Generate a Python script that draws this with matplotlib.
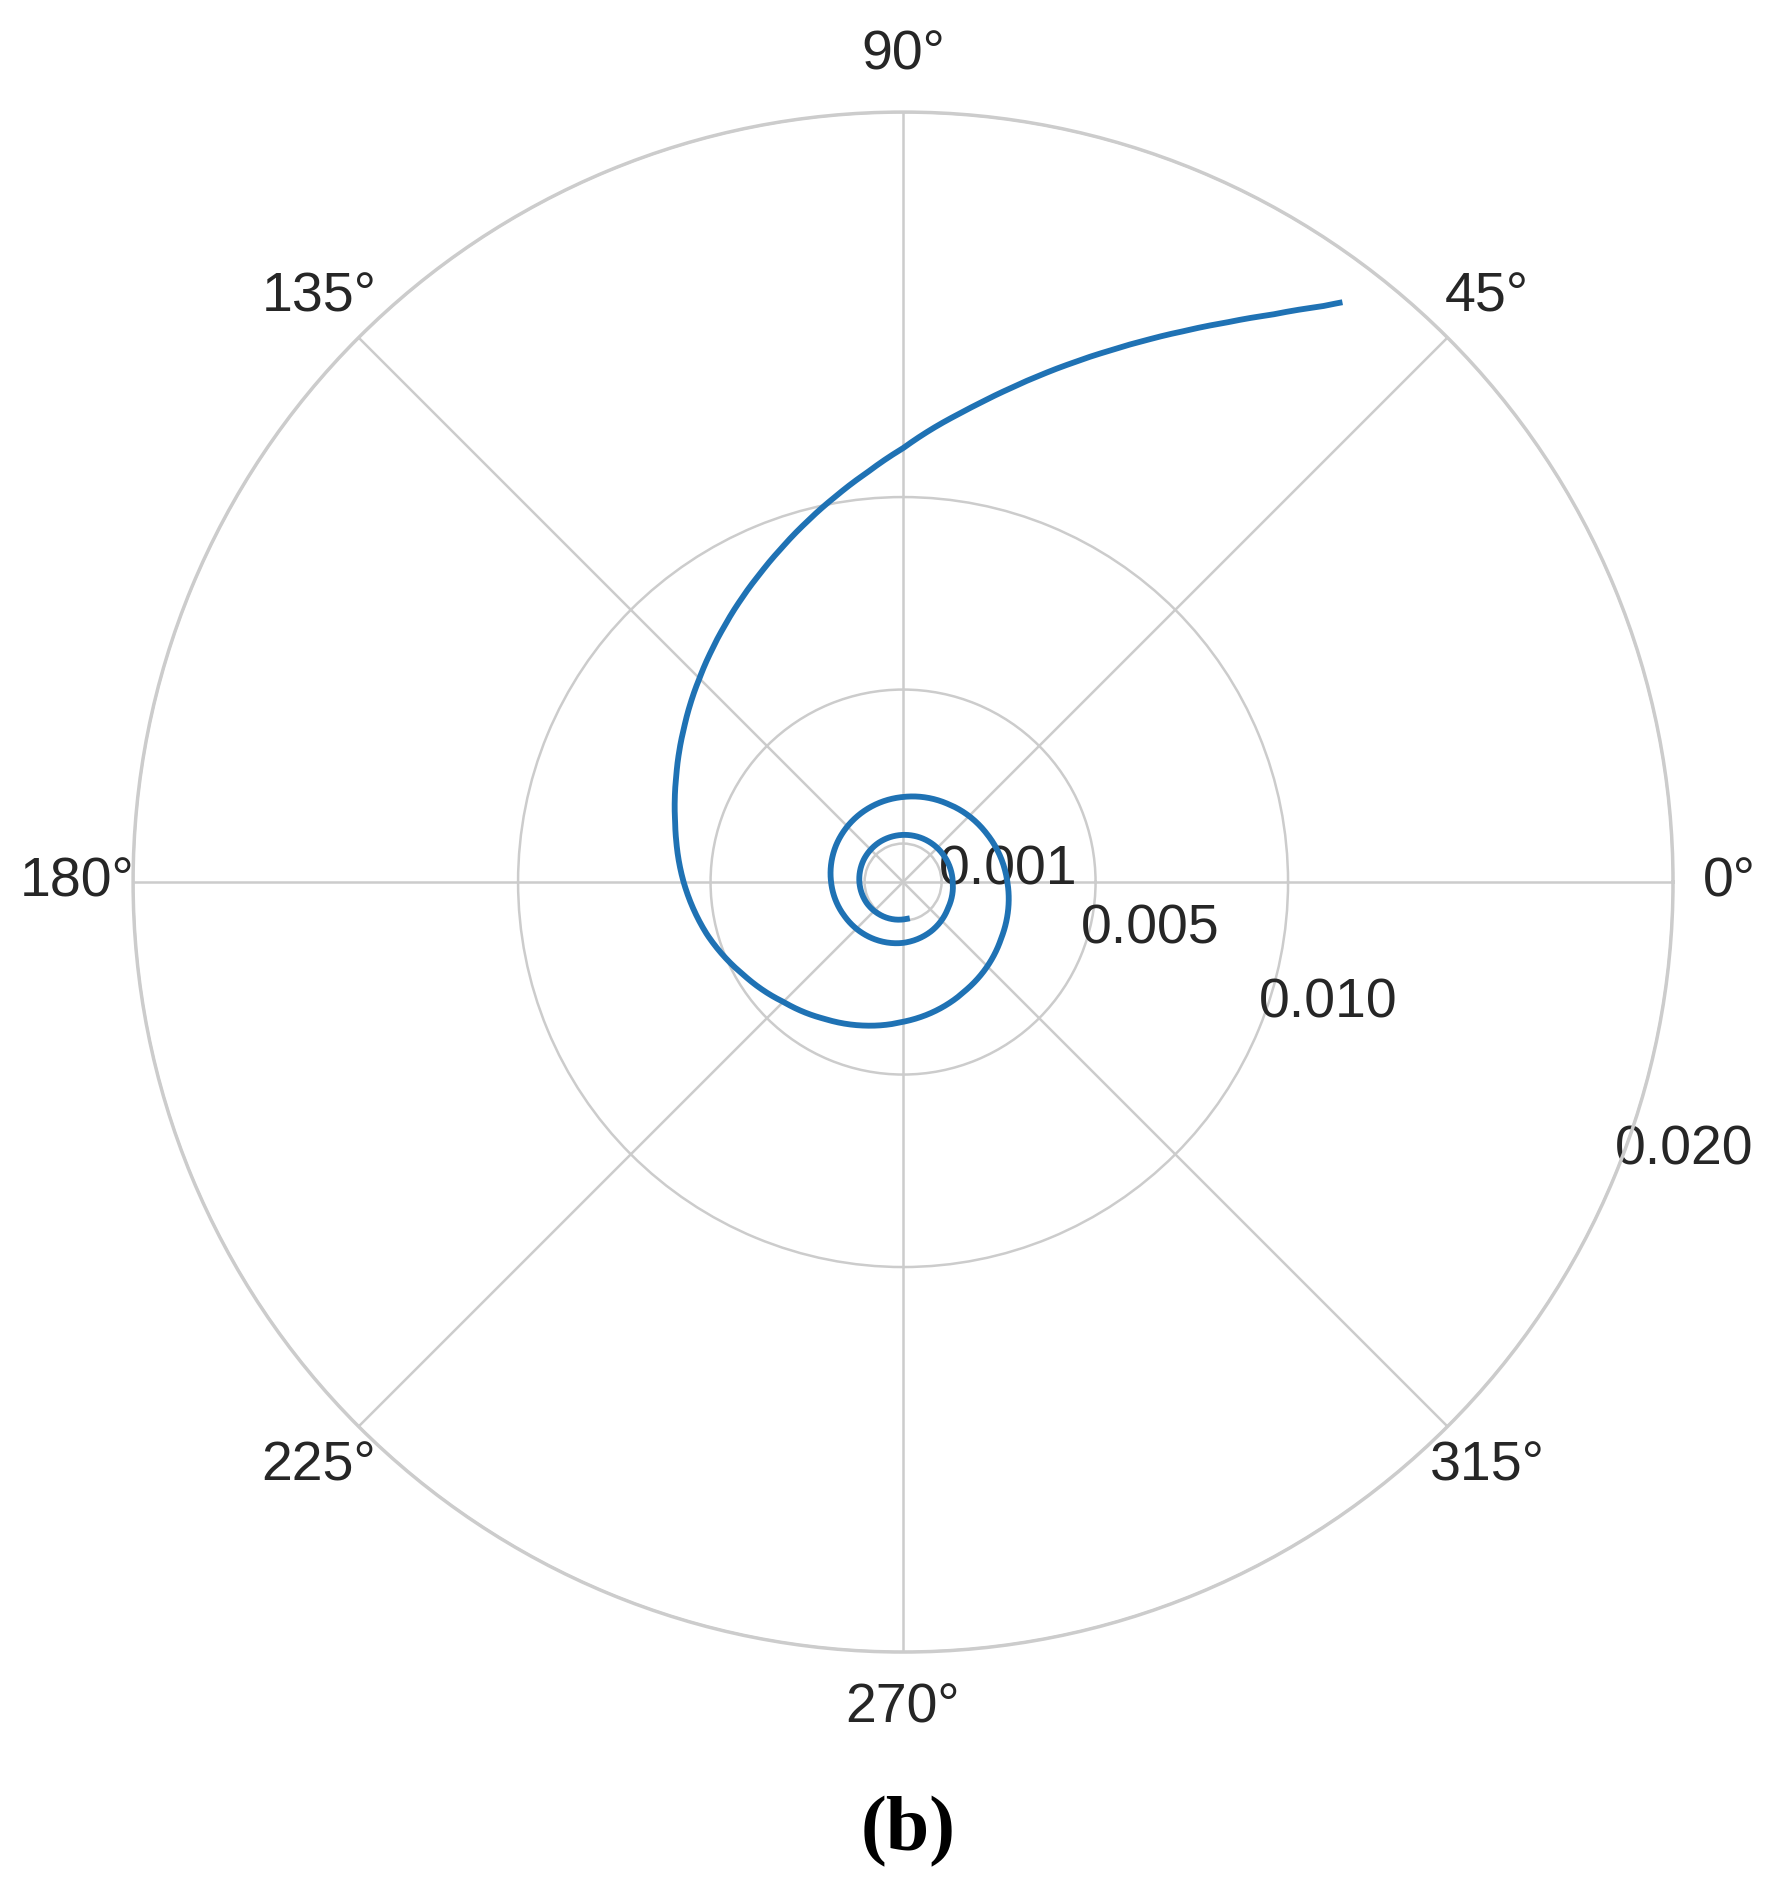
import numpy as np
import matplotlib.pyplot as plt

# spiral: unwrapped angle (deg) and radius (x 1e-3)
theta_deg = [276, 240, 210, 180, 150, 120, 90, 60, 30, 0,
             -30, -60, -90, -120, -150, -180, -210, -240, -270, -300,
             -330, -360, -390, -420, -450, -465, -480, -495, -510, -525,
             -540, -545, -550, -555, -560, -565, -570, -575, -580, -585,
             -590, -595, -600, -605, -610, -615, -620, -625, -630, -633,
             -636, -639, -642, -645, -648, -651, -654, -657, -660, -663,
             -666, -667]
radius_e3 = [0.96, 1.03, 1.09, 1.135, 1.175, 1.205, 1.225, 1.245, 1.265, 1.29,
             1.35, 1.47, 1.58, 1.67, 1.76, 1.87, 1.99, 2.10, 2.21, 2.34,
             2.51, 2.71, 2.94, 3.25, 3.63, 3.86, 4.10, 4.40, 4.80, 5.27,
             5.70, 5.84, 5.98, 6.13, 6.31, 6.50, 6.72, 6.95, 7.21, 7.48,
             7.78, 8.10, 8.45, 8.82, 9.23, 9.68, 10.16, 10.68, 11.27, 11.70,
             12.13, 12.58, 13.08, 13.61, 14.17, 14.76, 15.39, 16.06, 16.78, 17.57,
             18.48, 18.84]

r_ticks = [0.001, 0.005, 0.010, 0.020]
r_tick_labels = ["0.001", "0.005", "0.010", "0.020"]
panel_label = "(b)"

plt.rcParams['font.family'] = ['Liberation Sans', 'DejaVu Sans']

fig = plt.figure(figsize=(17.84, 18.92), dpi=100)
ax = fig.add_axes([0.0746, 0.1268, 0.8632, 0.814], projection='polar')

radius = np.array(radius_e3) * 1e-3
line, = ax.plot(np.deg2rad(theta_deg), radius, color='#1f72b4', lw=4.2)
# let the polar transform curve the segments
line.get_path()._interpolation_steps = 40

ax.set_rlim(0, 0.020)
ax.set_rticks(r_ticks)
ax.set_yticklabels(r_tick_labels)
ax.set_rlabel_position(-22.5)

ax.grid(True, color='#cccccc', lw=1.8)
ax.spines['polar'].set_color('#cccccc')
ax.spines['polar'].set_linewidth(2.5)
ax.tick_params(axis='both', labelsize=40, colors='#262626')
ax.tick_params(axis='x', pad=30)

fig.text(0.509, 0.032, panel_label, ha='center', va='center',
         fontsize=56, fontweight='bold', family='Liberation Serif')

fig.savefig('out.png', dpi=100, facecolor='white')
